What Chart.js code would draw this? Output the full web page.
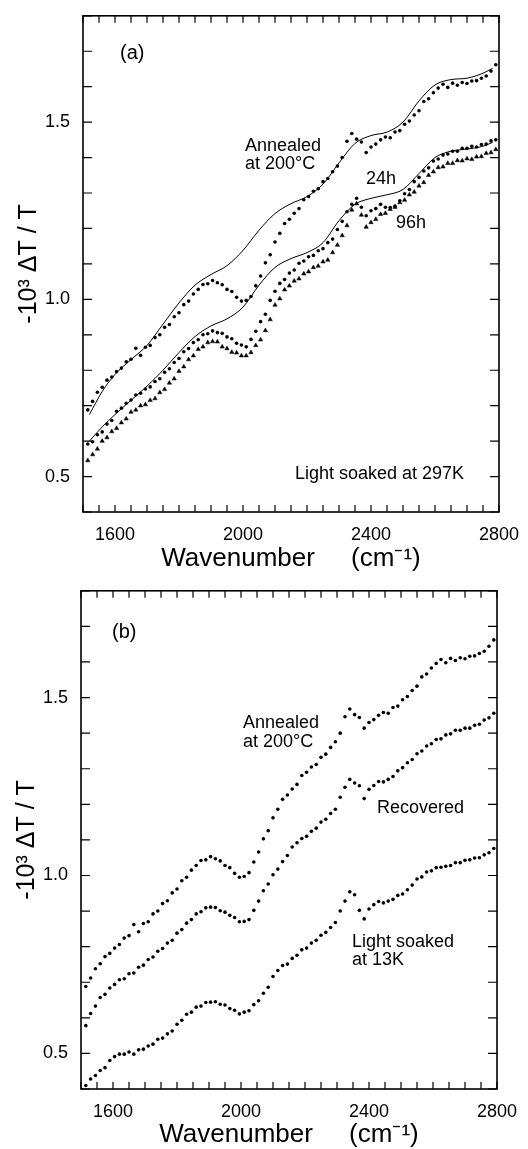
<!DOCTYPE html>
<html>
<head>
<meta charset="utf-8">
<script src="https://cdn.jsdelivr.net/npm/chart.js@4/dist/chart.umd.min.js"></script>
<style>
    body { margin: 0; background: #fff; overflow: hidden; }
    canvas { position: absolute; left: 0; }
    #chartA { top: 0; }
    #chartB { top: 575px; }
</style>
</head>
<body>
<canvas id="chartA" width="528" height="575"></canvas>
<canvas id="chartB" width="528" height="574"></canvas>
<script>
/* global Chart */

// measured points, wavenumber in cm-1
const wavenumber = [
    1515, 1530, 1545, 1560, 1575, 1590, 1605, 1620, 1635, 1650,
    1665, 1680, 1695, 1710, 1725, 1740, 1755, 1770, 1785, 1800,
    1815, 1830, 1845, 1860, 1875, 1890, 1905, 1920, 1935, 1950,
    1965, 1980, 1995, 2010, 2025, 2040, 2055, 2070, 2085, 2100,
    2115, 2130, 2145, 2160, 2175, 2190, 2205, 2220, 2235, 2250,
    2265, 2280, 2295, 2310, 2325, 2340, 2355, 2370, 2385, 2400,
    2415, 2430, 2445, 2460, 2475, 2490, 2505, 2520, 2535, 2550,
    2565, 2580, 2595, 2610, 2625, 2640, 2655, 2670, 2685, 2700,
    2715, 2730, 2745, 2760, 2775, 2790
];

const annealed = [
    0.688, 0.712, 0.738, 0.752, 0.772, 0.781, 0.796, 0.806, 0.824, 0.831,
    0.862, 0.842, 0.865, 0.870, 0.892, 0.900, 0.921, 0.929, 0.951, 0.962,
    0.985, 0.995, 1.015, 1.028, 1.042, 1.044, 1.053, 1.047, 1.041, 1.028,
    1.022, 1.006, 0.995, 0.997, 1.008, 1.038, 1.066, 1.103, 1.126, 1.162,
    1.186, 1.214, 1.226, 1.243, 1.256, 1.281, 1.290, 1.305, 1.312, 1.332,
    1.341, 1.360, 1.376, 1.400, 1.446, 1.468, 1.452, 1.444, 1.414, 1.430,
    1.438, 1.450, 1.458, 1.456, 1.472, 1.476, 1.494, 1.503, 1.520, 1.532,
    1.558, 1.566, 1.583, 1.596, 1.607, 1.598, 1.610, 1.604, 1.612, 1.609,
    1.616, 1.617, 1.624, 1.630, 1.644, 1.662
];

const soaked24h = [
    0.592, 0.598, 0.618, 0.626, 0.648, 0.658, 0.684, 0.693, 0.707, 0.716,
    0.730, 0.735, 0.747, 0.753, 0.768, 0.776, 0.794, 0.804, 0.822, 0.833,
    0.852, 0.861, 0.878, 0.886, 0.900, 0.903, 0.911, 0.906, 0.904, 0.894,
    0.889, 0.876, 0.871, 0.866, 0.887, 0.910, 0.937, 0.958, 0.997, 1.023,
    1.045, 1.056, 1.074, 1.083, 1.102, 1.108, 1.120, 1.124, 1.137, 1.143,
    1.160, 1.170, 1.197, 1.220, 1.247, 1.268, 1.285, 1.260, 1.236, 1.250,
    1.256, 1.268, 1.260, 1.259, 1.263, 1.278, 1.298, 1.310, 1.332, 1.344,
    1.362, 1.371, 1.390, 1.396, 1.407, 1.410, 1.418, 1.418, 1.426, 1.426,
    1.432, 1.430, 1.437, 1.438, 1.447, 1.450
];

const soaked96h = [
    0.545, 0.562, 0.578, 0.600, 0.610, 0.627, 0.636, 0.652, 0.663, 0.682,
    0.688, 0.700, 0.703, 0.715, 0.720, 0.737, 0.746, 0.764, 0.776, 0.797,
    0.810, 0.830, 0.841, 0.859, 0.866, 0.878, 0.881, 0.880, 0.866, 0.861,
    0.851, 0.849, 0.841, 0.841, 0.850, 0.870, 0.886, 0.912, 0.943, 0.984,
    1.002, 1.027, 1.038, 1.052, 1.058, 1.072, 1.078, 1.090, 1.094, 1.106,
    1.111, 1.132, 1.153, 1.180, 1.208, 1.252, 1.270, 1.238, 1.204, 1.217,
    1.226, 1.240, 1.243, 1.254, 1.260, 1.273, 1.280, 1.295, 1.303, 1.320,
    1.330, 1.350, 1.360, 1.372, 1.374, 1.384, 1.384, 1.392, 1.391, 1.397,
    1.395, 1.402, 1.403, 1.412, 1.414, 1.423
];

const recovered = [
    0.578, 0.612, 0.633, 0.657, 0.666, 0.684, 0.694, 0.707, 0.710, 0.724,
    0.726, 0.742, 0.748, 0.764, 0.771, 0.787, 0.795, 0.810, 0.818, 0.838,
    0.848, 0.866, 0.876, 0.892, 0.898, 0.909, 0.911, 0.910, 0.901, 0.897,
    0.888, 0.882, 0.870, 0.871, 0.876, 0.902, 0.928, 0.957, 0.976, 1.002,
    1.018, 1.039, 1.056, 1.080, 1.092, 1.104, 1.110, 1.124, 1.133, 1.150,
    1.158, 1.174, 1.186, 1.220, 1.248, 1.270, 1.260, 1.252, 1.216, 1.242,
    1.253, 1.264, 1.263, 1.270, 1.278, 1.294, 1.303, 1.317, 1.326, 1.342,
    1.350, 1.364, 1.370, 1.382, 1.384, 1.395, 1.398, 1.408, 1.408, 1.414,
    1.414, 1.422, 1.425, 1.437, 1.443, 1.456
];

const soaked13K = [
    0.410, 0.428, 0.438, 0.452, 0.460, 0.480, 0.491, 0.498, 0.498, 0.504,
    0.498, 0.510, 0.512, 0.521, 0.526, 0.540, 0.543, 0.555, 0.563, 0.582,
    0.593, 0.610, 0.616, 0.630, 0.633, 0.643, 0.644, 0.645, 0.638, 0.636,
    0.626, 0.621, 0.611, 0.616, 0.620, 0.637, 0.648, 0.669, 0.686, 0.716,
    0.733, 0.747, 0.751, 0.767, 0.776, 0.791, 0.796, 0.810, 0.818, 0.832,
    0.840, 0.854, 0.868, 0.900, 0.928, 0.954, 0.946, 0.902, 0.878, 0.906,
    0.918, 0.927, 0.923, 0.928, 0.933, 0.944, 0.948, 0.960, 0.973, 0.990,
    0.996, 1.010, 1.013, 1.022, 1.023, 1.026, 1.028, 1.036, 1.036, 1.043,
    1.044, 1.049, 1.050, 1.058, 1.064, 1.076
];

// fitted curves in panel (a)
const fitWavenumber = [1520, 1560, 1600, 1650, 1700, 1750, 1800, 1850, 1900, 1950,
    2000, 2050, 2100, 2150, 2200, 2250, 2300, 2350, 2400, 2450,
    2500, 2550, 2600, 2650, 2700, 2750, 2780];
const fitAnnealed = [0.675, 0.740, 0.788, 0.830, 0.870, 0.930, 0.990, 1.040, 1.070, 1.095,
    1.138, 1.195, 1.242, 1.270, 1.290, 1.325, 1.385, 1.440, 1.462, 1.472,
    1.500, 1.560, 1.605, 1.620, 1.624, 1.638, 1.652];
const fitSoaked = [0.600, 0.640, 0.675, 0.715, 0.755, 0.800, 0.850, 0.895, 0.925, 0.945,
    0.978, 1.040, 1.090, 1.115, 1.132, 1.160, 1.222, 1.268, 1.285, 1.295,
    1.310, 1.355, 1.400, 1.418, 1.424, 1.432, 1.443];

const xTickLabels = [1600, 2000, 2400, 2800];
const yTickLabels = [0.5, 1.0, 1.5];

const FONT = "'Liberation Sans', Arial, Helvetica, sans-serif";

const toPoints = (xs, ys) => xs.map((x, i) => ({x: x, y: ys[i]}));

const dots = (ys) => ({
    data: toPoints(wavenumber, ys),
    showLine: false,
    pointStyle: 'circle',
    pointRadius: 1.8,
    backgroundColor: '#000',
    borderWidth: 0
});

const triangles = (ys) => ({
    data: toPoints(wavenumber, ys),
    showLine: false,
    pointStyle: 'triangle',
    pointRadius: 2.5,
    backgroundColor: '#000',
    borderColor: '#000',
    borderWidth: 0.5
});

const fitLine = (ys) => ({
    data: toPoints(fitWavenumber, ys),
    showLine: true,
    pointRadius: 0,
    borderColor: '#000',
    borderWidth: 1,
    cubicInterpolationMode: 'monotone',
    fill: false
});

// box and inward ticks on all four sides, plus the text notes
const frameTicks = {
    id: 'frameTicks',
    afterDraw(chart) {
        const {ctx, chartArea: a, scales: {x, y}} = chart;
        ctx.save();
        ctx.strokeStyle = '#000';
        ctx.lineWidth = 1.6;
        ctx.strokeRect(a.left, a.top, a.right - a.left, a.bottom - a.top);
        ctx.lineWidth = 1.2;
        ctx.beginPath();
        x.ticks.forEach(t => {
            const px = x.getPixelForValue(t.value);
            ctx.moveTo(px, a.bottom);
            ctx.lineTo(px, a.bottom - 7);
            ctx.moveTo(px, a.top);
            ctx.lineTo(px, a.top + 7);
        });
        y.ticks.forEach(t => {
            const py = y.getPixelForValue(t.value);
            ctx.moveTo(a.left, py);
            ctx.lineTo(a.left + 9, py);
            ctx.moveTo(a.right, py);
            ctx.lineTo(a.right - 9, py);
        });
        ctx.stroke();

        ctx.fillStyle = '#000';
        ctx.textAlign = 'left';
        ctx.textBaseline = 'middle';
        const notes = chart.options.plugins.frameTicks.notes || [];
        notes.forEach(n => {
            ctx.font = `${n.size || 18}px ${FONT}`;
            ctx.fillText(n.text, n.x, n.y);
        });
        ctx.restore();
    }
};

const makeChart = (id, datasets, box, notes) => {
    return new Chart(document.getElementById(id), {
        type: 'scatter',
        data: {datasets: datasets},
        options: {
            responsive: false,
            animation: false,
            devicePixelRatio: 1,
            layout: {padding: {top: box.top, right: box.right, left: 0, bottom: 0}},
            plugins: {
                legend: {display: false},
                tooltip: {enabled: false},
                frameTicks: {notes: notes}
            },
            scales: {
                x: {
                    type: 'linear',
                    min: 1500,
                    max: 2800,
                    afterFit: s => { s.height = box.xHeight; },
                    grid: {display: false},
                    border: {display: false},
                    ticks: {
                        stepSize: 50,
                        autoSkip: false,
                        maxRotation: 0,
                        maxTicksLimit: 60,
                        padding: 4,
                        color: '#000',
                        font: {family: FONT, size: 18},
                        callback: v => xTickLabels.includes(Math.round(v)) ? String(Math.round(v)) : ''
                    },
                    title: {
                        display: true,
                        text: 'Wavenumber     (cm\u207B\u00B9)',
                        color: '#000',
                        font: {family: FONT, size: 26, lineHeight: 1.1},
                        padding: {top: 0, bottom: box.xTitlePad}
                    }
                },
                y: {
                    type: 'linear',
                    min: 0.4,
                    max: 1.8,
                    afterFit: s => { s.width = box.yWidth; },
                    grid: {display: false},
                    border: {display: false},
                    ticks: {
                        stepSize: 0.1,
                        autoSkip: false,
                        maxTicksLimit: 60,
                        padding: 5,
                        color: '#000',
                        font: {family: FONT, size: 18},
                        callback: v => {
                            const hit = yTickLabels.find(t => Math.abs(t - v) < 1e-6);
                            return hit !== undefined ? hit.toFixed(1) : '';
                        }
                    },
                    title: {
                        display: true,
                        text: '-10\u00B3 \u0394T / T',
                        color: '#000',
                        font: {family: FONT, size: 25, lineHeight: 1.2},
                        padding: {top: box.yTitlePad, bottom: 0}
                    }
                }
            }
        },
        plugins: [frameTicks]
    });
};

makeChart('chartA', [
    dots(annealed),
    dots(soaked24h),
    triangles(soaked96h),
    fitLine(fitAnnealed),
    fitLine(fitSoaked)
], {top: 13, right: 29, yWidth: 83, xHeight: 63, xTitlePad: 2, yTitlePad: 14}, [
    {text: '(a)', x: 120, y: 53, size: 20},
    {text: 'Annealed', x: 245, y: 146},
    {text: 'at 200\u00B0C', x: 245, y: 164},
    {text: '24h', x: 366, y: 179},
    {text: '96h', x: 396, y: 223},
    {text: 'Light soaked at 297K', x: 295, y: 474}
]);

makeChart('chartB', [
    dots(annealed),
    dots(recovered),
    dots(soaked13K)
], {top: 15, right: 31, yWidth: 81, xHeight: 60, xTitlePad: 0, yTitlePad: 12}, [
    {text: '(b)', x: 112, y: 57, size: 20},
    {text: 'Annealed', x: 243, y: 148},
    {text: 'at 200\u00B0C', x: 243, y: 167},
    {text: 'Recovered', x: 377, y: 233},
    {text: 'Light soaked', x: 352, y: 367},
    {text: 'at 13K', x: 352, y: 385}
]);
</script>
</body>
</html>
